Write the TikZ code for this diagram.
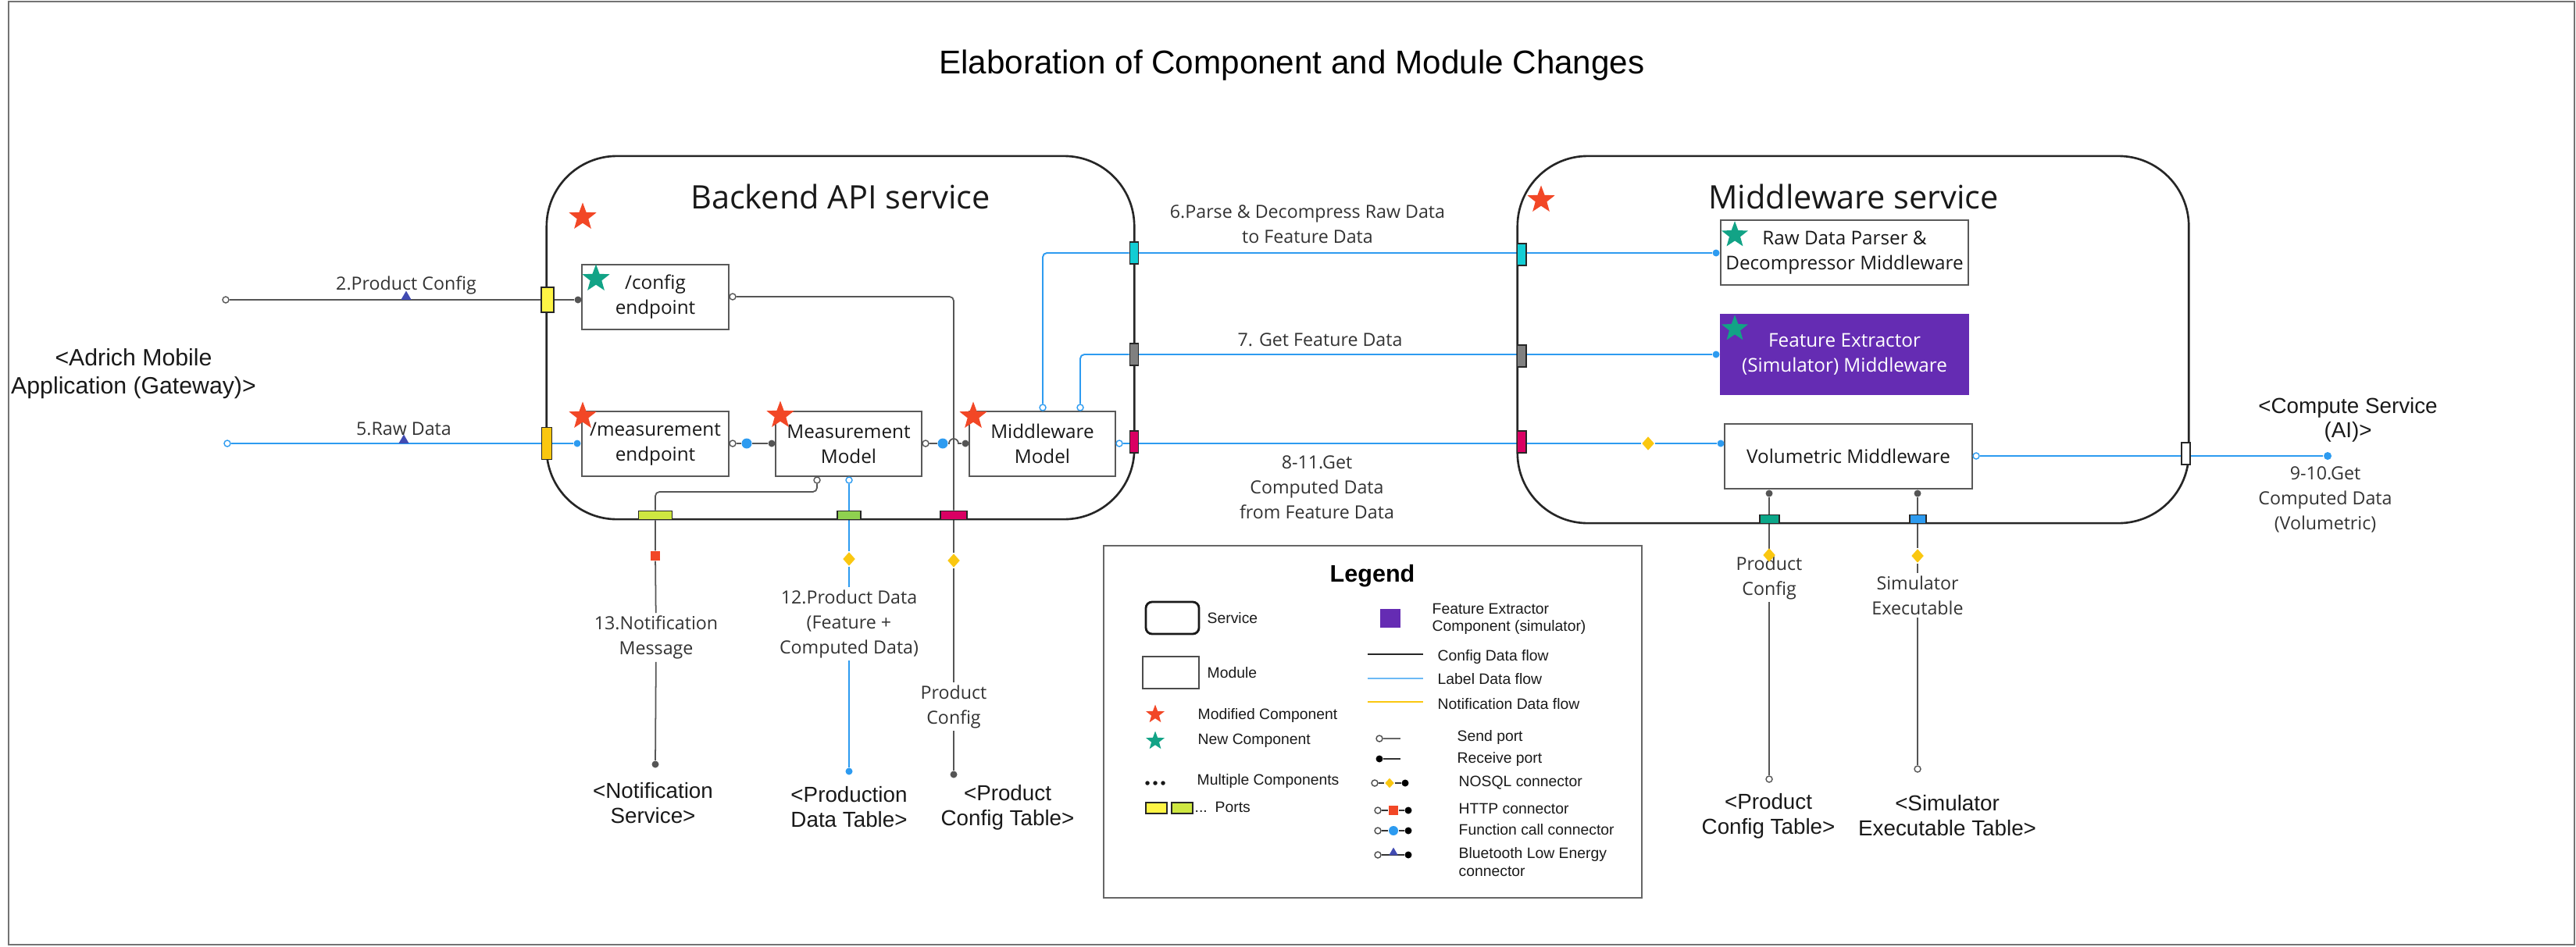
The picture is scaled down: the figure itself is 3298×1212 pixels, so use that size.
\documentclass[tikz,border=0pt]{standalone}
\usepackage{fontspec}
\setmainfont{Open Sans}
\newfontfamily\arialfont{Liberation Sans}
\usepackage{xcolor}
\usepackage{tikz}
\usetikzlibrary{positioning,calc,shapes.geometric,backgrounds}

\definecolor{modred}{HTML}{F24726}
\definecolor{newgreen}{HTML}{12A386}
\definecolor{simpurple}{HTML}{652CB3}
\definecolor{flowblue}{HTML}{2D9BF0}
\definecolor{cfggray}{HTML}{555555}
\definecolor{nosqlyel}{HTML}{FAC710}
\definecolor{bleblue}{HTML}{414BB2}
\definecolor{portyellow}{HTML}{FEF445}
\definecolor{portorange}{HTML}{FAC710}
\definecolor{portlime}{HTML}{CEE741}
\definecolor{portgreen}{HTML}{8FD14F}
\definecolor{portmag}{HTML}{DA0063}
\definecolor{portcyan}{HTML}{12CDD4}
\definecolor{portgray}{HTML}{808080}
\definecolor{portteal}{HTML}{0CA789}
\definecolor{txtgray}{HTML}{333333}

\tikzset{
  svc/.style={draw=black!85, line width=0.75pt, rounded corners=0.9cm},
  svctitle/.style={inner sep=0pt, text=black!90, font=\fontsize{11.8}{14}\selectfont},
  module/.style={draw=black!65, line width=0.5pt, fill=white, align=center, inner sep=0pt,
    minimum height=0.83cm, text=black!90, font=\fontsize{6.9}{9.1}\selectfont},
  port/.style={draw=black!85, line width=0.55pt, inner sep=0pt},
  vport/.style={port, minimum width=0.11cm, minimum height=0.28cm},
  hport/.style={port, minimum height=0.11cm},
  modstar/.style={star, star points=5, star point ratio=2.4, fill=modred, inner sep=0pt, minimum size=0.37cm},
  newstar/.style={modstar, fill=newgreen},
  sendpt/.style={circle, draw=#1, fill=white, line width=0.4pt, inner sep=0pt, minimum size=0.08cm},
  sendpt/.default=cfggray,
  recvpt/.style={circle, fill=#1, inner sep=0pt, minimum size=0.09cm},
  recvpt/.default=cfggray,
  fcall/.style={circle, fill=flowblue, inner sep=0pt, minimum size=0.13cm},
  nosql/.style={diamond, fill=nosqlyel, inner sep=0pt, minimum width=0.16cm, minimum height=0.18cm},
  http/.style={rectangle, fill=modred, inner sep=0pt, minimum size=0.12cm},
  ble/.style={regular polygon, regular polygon sides=3, fill=bleblue, inner sep=0pt, minimum size=0.15cm},
  cfgflow/.style={draw=cfggray, line width=0.5pt},
  lblflow/.style={draw=flowblue, line width=0.55pt},
  flowlbl/.style={align=center, inner sep=0.03cm, text=txtgray, font=\fontsize{6.6}{9.1}\selectfont},
  extlbl/.style={align=center, inner sep=0.03cm, text=black!90, font=\arialfont\fontsize{7.9}{9.1}\selectfont},
  lgtext/.style={anchor=west, inner sep=0pt, align=left, text=black!90, font=\arialfont\fontsize{5.5}{6.3}\selectfont},
}

\begin{document}
\begin{tikzpicture}[x=0.01cm, y=-0.01cm]
\useasboundingbox (0,0) rectangle (3298,1212);
\draw[black!55, line width=0.4pt] (11,2) rectangle (3296,1210);

\node[font=\arialfont\fontsize{12}{14}\selectfont] (title) at (1654,84) {Elaboration of Component and Module Changes};

% services
\node[svc, minimum width=7.52cm, minimum height=4.65cm] (backend) at (1076,432.5) {};
\node[svc, minimum width=8.59cm, minimum height=4.70cm] (mwsvc) at (2372.5,435) {};
\node[svctitle] (backendT) at (1076,252) {Backend API service};
\node[svctitle] (mwsvcT) at (2373,252) {Middleware service};

% modules
\node[module, minimum width=1.88cm] (cfgEp) at (839,380.5) {/config\\endpoint};
\node[module, minimum width=1.88cm] (measEp) at (839,568.5) {/measurement\\endpoint};
\node[module, minimum width=1.87cm] (measModel) at (1086.5,568.5) {Measurement\\Model};
\node[module, minimum width=1.87cm] (mwModel) at (1334.5,568.5) {Middleware\\Model};
\node[module, minimum width=3.17cm] (rawParser) at (2361.5,323.5) {Raw Data Parser \&\\Decompressor Middleware};
\node[module, minimum width=3.17cm, minimum height=1.02cm, fill=simpurple, draw=simpurple, text=white] (featExt) at (2361.5,454) {Feature Extractor\\(Simulator) Middleware};
\node[module, minimum width=3.17cm] (volMw) at (2366.5,584.5) {Volumetric Middleware};

% ports
\node[port, fill=portyellow, minimum width=0.16cm, minimum height=0.32cm] (pCfg) at (701,384) {};
\node[port, fill=portorange, minimum width=0.13cm, minimum height=0.41cm] (pMeas) at (700,568) {};
\node[vport, fill=portcyan] (pBeCyan) at (1452,324) {};
\node[vport, fill=portgray] (pBeGray) at (1452,454) {};
\node[vport, fill=portmag] (pBeMag) at (1452,566) {};
\node[vport, fill=portcyan] (pMwCyan) at (1948,326) {};
\node[vport, fill=portgray] (pMwGray) at (1948,456) {};
\node[vport, fill=portmag] (pMwMag) at (1948,566) {};
\node[vport, fill=white] (pMwOut) at (2798,581) {};
\node[hport, fill=portlime, minimum width=0.43cm] (pBeLime) at (839,660) {};
\node[hport, fill=portgreen, minimum width=0.30cm] (pBeGreen) at (1087,660) {};
\node[hport, fill=portmag, minimum width=0.34cm] (pBeMagB) at (1221,660) {};
\node[hport, fill=portteal, minimum width=0.25cm] (pMwTeal) at (2265,665) {};
\node[hport, fill=flowblue, minimum width=0.21cm] (pMwBlue) at (2455,665) {};

% connector ends
\node[sendpt=cfggray] (gwCfgSend) at (289,384) {};
\node[sendpt=flowblue] (gwRawSend) at (291,568) {};
\node[ble] (bleCfg) at (520,380) {};
\node[ble] (bleRaw) at (517,564) {};
\node[recvpt=cfggray] (cfgRecv) at (740,384) {};
\node[recvpt=flowblue] (measRecv) at (739,568) {};
\node[sendpt=cfggray] (cfgSend) at (938,380) {};
\node[sendpt=cfggray] (meSend) at (938,568) {};
\node[fcall] (fc1) at (956,568) {};
\node[recvpt=cfggray] (mmRecv) at (988,568) {};
\node[sendpt=cfggray] (mmSendE) at (1185,568) {};
\node[fcall] (fc2) at (1207,568) {};
\coordinate (hop) at (1221,568);
\node[recvpt=cfggray] (mwRecv) at (1236,568) {};
\node[sendpt=cfggray] (mmSendN) at (1046,615) {};
\node[sendpt=flowblue] (mmSendB) at (1087,615) {};
\node[http] (httpNotif) at (839,712) {};
\node[nosql] (nqProd) at (1087,716) {};
\node[nosql] (nqCfgB) at (1221,718) {};
\node[recvpt=cfggray] (dbNotif) at (839,979) {};
\node[recvpt=flowblue] (dbProd) at (1087,988) {};
\node[recvpt=cfggray] (dbCfgB) at (1221,992) {};
\node[sendpt=flowblue] (mwSendA) at (1335,522) {};
\node[sendpt=flowblue] (mwSendB) at (1383,522) {};
\node[sendpt=flowblue] (mwSendE) at (1433,568) {};
\node[recvpt=flowblue] (rpRecv) at (2197,324) {};
\node[recvpt=flowblue] (feRecv) at (2197,454) {};
\node[nosql] (nqVol) at (2110,568) {};
\node[recvpt=flowblue] (volRecv) at (2203,568) {};
\node[sendpt=flowblue] (volSend) at (2530,584) {};
\node[recvpt=flowblue, minimum size=0.1cm] (aiRecv) at (2980,584) {};
\node[recvpt=cfggray] (volRecvA) at (2265,632) {};
\node[recvpt=cfggray] (volRecvB) at (2455,632) {};
\node[sendpt=cfggray] (dbCfgM) at (2265,998) {};
\node[sendpt=cfggray] (dbSim) at (2455,985) {};

% labels
\node[flowlbl] (lblCfg) at (520,365) {2.Product Config};
\node[flowlbl] (lblRaw) at (517,549) {5.Raw Data};
\node[flowlbl] (lblParse) at (1674,287) {6.Parse \& Decompress Raw Data\\to Feature Data};
\node[flowlbl] (lblGetFeat) at (1690,435) {7. Get Feature Data};
\node[flowlbl] (lblGetComp) at (1686,624) {8-11.Get\\Computed Data\\from Feature Data};
\node[flowlbl] (lblVol) at (2977,640) {9-10.Get\\Computed Data\\(Volumetric)};
\node[flowlbl] (lblNotif) at (840,816.5) {13.Notification\\Message};
\node[flowlbl] (lblProdData) at (1087,799) {12.Product Data\\(Feature +\\Computed Data)};
\node[flowlbl] (lblCfgB) at (1221,905) {Product\\Config};
\node[flowlbl] (lblCfgM) at (2265,740) {Product\\Config};
\node[flowlbl] (lblSimExe) at (2455,762.5) {Simulator\\Executable};
\node[nosql] (nqCfgM) at (2265,711) {};
\node[nosql] (nqSim) at (2455,712) {};

\node[extlbl, font=\arialfont\fontsize{8.6}{10.2}\selectfont] (gateway) at (171,479) {<Adrich Mobile\\Application (Gateway)>};
\node[extlbl, font=\arialfont\fontsize{7.9}{8.8}\selectfont] (aiSvc) at (3006,537.5) {<Compute Service\\(AI)>};
\node[extlbl] (notifSvc) at (836,1029) {<Notification\\Service>};
\node[extlbl] (prodTable) at (1087,1034) {<Production\\Data Table>};
\node[extlbl] (cfgTableB) at (1290,1034) {<Product\\Config Table>};
\node[extlbl] (cfgTableM) at (2264,1045) {<Product\\Config Table>};
\node[extlbl] (simTable) at (2493,1045) {<Simulator\\Executable Table>};

% stars
\node[modstar] (starBe) at (746,278) {};
\node[modstar] (starMw) at (1973,256) {};
\node[newstar] (starCfg) at (763,357) {};
\node[modstar] (starMeas) at (746,533) {};
\node[modstar] (starMm) at (999,532) {};
\node[modstar] (starMwm) at (1246,533) {};
\node[newstar, minimum size=0.355cm] (starRp) at (2221,301) {};
\node[newstar, minimum size=0.355cm] (starFe) at (2221,421) {};

% legend
\node[draw=black!60, line width=0.5pt, minimum width=6.89cm, minimum height=4.51cm] (legend) at (1757.5,924.5) {};
\node[font=\arialfont\bfseries\fontsize{8.7}{10}\selectfont] (legendT) at (1757,738) {Legend};
\node[draw=black!90, line width=0.8pt, rounded corners=0.08cm, minimum width=0.68cm, minimum height=0.41cm] (lgSvc) at (1501,791.5) {};
\node[lgtext] (lgSvcT) at (1545,792) {Service};
\node[draw=black!70, line width=0.5pt, minimum width=0.72cm, minimum height=0.41cm] (lgMod) at (1499,861.5) {};
\node[lgtext] (lgModT) at (1545,862) {Module};
\node[modstar, minimum size=0.25cm] (lgModStar) at (1479,915) {};
\node[lgtext] (lgModStarT) at (1533,916) {Modified Component};
\node[newstar, minimum size=0.25cm] (lgNewStar) at (1479,949) {};
\node[lgtext] (lgNewStarT) at (1533,949) {New Component};
\foreach \dx [count=\i] in {1469,1479,1489}
  \node[circle, fill=black!90, inner sep=0pt, minimum size=0.055cm] (lgDot\i) at (\dx,1003) {};
\node[lgtext] (lgMultiT) at (1532,1000) {Multiple Components};
\node[port, fill=portyellow, minimum width=0.27cm, minimum height=0.14cm] (lgPortA) at (1480.5,1035) {};
\node[port, fill=portlime, minimum width=0.27cm, minimum height=0.14cm] (lgPortB) at (1513.5,1035) {};
\node[lgtext] (lgPortDots) at (1529,1039) {...};
\node[lgtext] (lgPortT) at (1555,1034) {Ports};
\node[fill=simpurple, inner sep=0pt, minimum width=0.26cm, minimum height=0.24cm] (lgSim) at (1780,792) {};
\node[lgtext] (lgSimT) at (1833,793) {Feature Extractor\\Component (simulator)};
\coordinate (lgCfgA) at (1751,838);  \coordinate (lgCfgB) at (1822,838);
\coordinate (lgLblA) at (1751,869);  \coordinate (lgLblB) at (1822,869);
\coordinate (lgNtfA) at (1751,899);  \coordinate (lgNtfB) at (1822,899);
\draw[black!85, line width=0.5pt] (lgCfgA) -- (lgCfgB);
\draw[flowblue!70, line width=0.6pt] (lgLblA) -- (lgLblB);
\draw[nosqlyel, line width=0.6pt] (lgNtfA) -- (lgNtfB);
\node[lgtext] (lgCfgT) at (1840,841) {Config Data flow};
\node[lgtext] (lgLblT) at (1840,870) {Label Data flow};
\node[lgtext] (lgNtfT) at (1840,902) {Notification Data flow};
\node[sendpt=black!70] (lgSend) at (1766,946) {};
\coordinate (lgSendE) at (1793,946);
\node[recvpt=black] (lgRecv) at (1766,972) {};
\coordinate (lgRecvE) at (1793,972);
\node[lgtext] (lgSendT) at (1865,944) {Send port};
\node[lgtext] (lgRecvT) at (1865,972) {Receive port};
\node[sendpt=black!70] (lgNqS) at (1760,1003) {};
\node[nosql, minimum width=0.12cm, minimum height=0.13cm] (lgNq) at (1779,1003) {};
\node[recvpt=black] (lgNqR) at (1799,1003) {};
\node[lgtext] (lgNqT) at (1867,1003) {NOSQL connector};
\node[sendpt=black!70] (lgHtS) at (1764,1038) {};
\node[http] (lgHt) at (1784,1038) {};
\node[recvpt=black] (lgHtR) at (1803,1038) {};
\node[lgtext] (lgHtT) at (1867,1036) {HTTP connector};
\node[sendpt=black!70] (lgFcS) at (1764,1064) {};
\node[fcall, minimum size=0.12cm] (lgFc) at (1784,1064) {};
\node[recvpt=black] (lgFcR) at (1803,1064) {};
\node[lgtext] (lgFcT) at (1867,1063) {Function call connector};
\node[sendpt=black!70] (lgBleS) at (1764,1095) {};
\node[ble, minimum size=0.13cm] (lgBle) at (1784,1092) {};
\node[recvpt=black] (lgBleR) at (1803,1095) {};
\node[lgtext] (lgBleT) at (1867,1104) {Bluetooth Low Energy\\connector};

\begin{scope}[on background layer]
\draw[cfgflow] (gwCfgSend) -- (pCfg) -- (cfgRecv);
\draw[lblflow] (gwRawSend) -- (pMeas) -- (measRecv);
\draw[cfgflow] (meSend) -- (fc1) -- (mmRecv);
\draw[cfgflow] (mmSendE) -- (fc2) -- ([xshift=-0.06cm]hop) arc[start angle=180, end angle=360, radius=6] -- (mwRecv);
\draw[cfgflow, rounded corners=1.5pt] (cfgSend) -| (pBeMagB);
\draw[cfgflow] (pBeMagB) -- (nqCfgB) -- (lblCfgB);
\draw[cfgflow] (lblCfgB) -- (dbCfgB);
\draw[cfgflow, rounded corners=1.5pt] (mmSendN) -- ++(0,15) -| (pBeLime);
\draw[cfgflow] (pBeLime) -- (httpNotif) -- (lblNotif);
\draw[cfgflow] (lblNotif) -- (dbNotif);
\draw[lblflow] (mmSendB) -- (pBeGreen) -- (nqProd) -- (lblProdData);
\draw[lblflow] (lblProdData) -- (dbProd);
\draw[lblflow, rounded corners=1.5pt] (mwSendA) |- (pBeCyan);
\draw[lblflow] (pBeCyan) -- (pMwCyan |- pBeCyan) -- (rpRecv);
\draw[lblflow, rounded corners=1.5pt] (mwSendB) |- (pBeGray);
\draw[lblflow] (pBeGray) -- (pMwGray |- pBeGray) -- (feRecv);
\draw[lblflow] (mwSendE) -- (pBeMag |- mwSendE) -- (pMwMag |- mwSendE) -- (nqVol) -- (volRecv);
\draw[lblflow] (volSend) -- (pMwOut |- volSend) -- (aiRecv);
\draw[cfgflow] (volRecvA) -- (pMwTeal) -- (lblCfgM);
\draw[cfgflow] (lblCfgM) -- (dbCfgM);
\draw[cfgflow] (volRecvB) -- (pMwBlue) -- (nqSim) -- (lblSimExe);
\draw[cfgflow] (lblSimExe) -- (dbSim);
\draw[black!60, line width=0.5pt] (lgSend) -- (lgSendE);
\draw[black!80, line width=0.5pt] (lgRecv) -- (lgRecvE);
\draw[black!80, line width=0.5pt] (lgNqS) -- (lgNq) -- (lgNqR);
\draw[black!80, line width=0.5pt] (lgHtS) -- (lgHt) -- (lgHtR);
\draw[black!80, line width=0.5pt] (lgFcS) -- (lgFc) -- (lgFcR);
\draw[black!80, line width=0.5pt] (lgBleS) -- (lgBleR);
\end{scope}
\end{tikzpicture}
\end{document}
